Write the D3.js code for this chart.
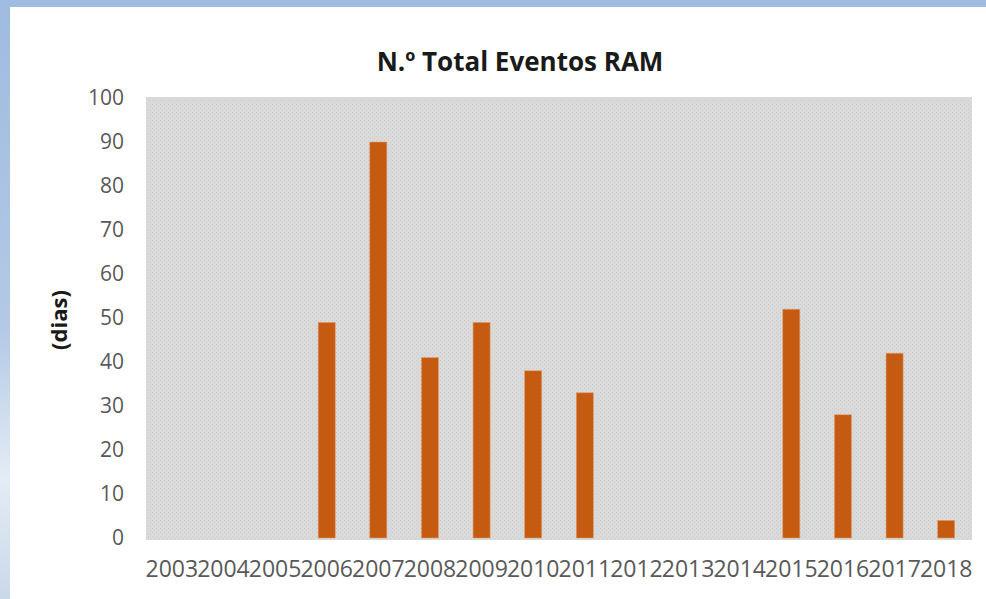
<!DOCTYPE html>
<html>
<head>
<meta charset="utf-8">
<script src="https://cdn.jsdelivr.net/npm/d3@7"></script>
<style>
  html, body { margin: 0; padding: 0; background: #fff; }
  svg { display: block; }
</style>
</head>
<body>
<script>
// data
var years = ["2003", "2004", "2005", "2006", "2007", "2008", "2009", "2010",
             "2011", "2012", "2013", "2014", "2015", "2016", "2017", "2018"];
var eventos = [0, 0, 0, 49, 90, 41, 49, 38, 33, 0, 0, 0, 52, 28, 42, 4];
var yTicks = [0, 10, 20, 30, 40, 50, 60, 70, 80, 90, 100];

var width = 986, height = 599;
var plot = {left: 146, right: 972, top: 97, bottom: 540};

var svg = d3.select("body").append("svg")
    .attr("width", width)
    .attr("height", height);

var defs = svg.append("defs");

// slide background (blue sky strip on left / top)
var grad = defs.append("linearGradient")
    .attr("id", "sky")
    .attr("x1", 0).attr("y1", 0).attr("x2", 0).attr("y2", 1);
grad.append("stop").attr("offset", "0").attr("stop-color", "#9fbbe0");
grad.append("stop").attr("offset", "0.55").attr("stop-color", "#b3c9e6");
grad.append("stop").attr("offset", "0.8").attr("stop-color", "#e4ecf5");
grad.append("stop").attr("offset", "1").attr("stop-color", "#c9d8ea");

// dotted texture of the plot area
var pat = defs.append("pattern")
    .attr("id", "dots")
    .attr("width", 4).attr("height", 4)
    .attr("patternUnits", "userSpaceOnUse");
pat.append("rect").attr("width", 4).attr("height", 4).attr("fill", "#dadada");
pat.append("rect").attr("x", 0).attr("y", 0).attr("width", 1).attr("height", 1).attr("fill", "#cbcbcb");
pat.append("rect").attr("x", 2).attr("y", 2).attr("width", 1).attr("height", 1).attr("fill", "#cbcbcb");

svg.append("rect")
    .attr("width", width).attr("height", height)
    .attr("fill", "url(#sky)");
svg.append("rect")
    .attr("x", 10).attr("y", 7)
    .attr("width", width - 10).attr("height", height - 7)
    .attr("fill", "#fff");

var x = d3.scaleBand()
    .domain(years)
    .range([plot.left, plot.right])
    .paddingInner(0.67)
    .paddingOuter(0.335);

var y = d3.scaleLinear()
    .domain([0, 100])
    .range([538, 98]);

svg.append("rect")
    .attr("x", plot.left).attr("y", plot.top)
    .attr("width", plot.right - plot.left)
    .attr("height", plot.bottom - plot.top)
    .attr("fill", "url(#dots)");

svg.append("g")
    .selectAll("rect")
    .data(eventos)
    .join("rect")
    .attr("x", function (d, i) { return x(years[i]); })
    .attr("y", function (d) { return y(d); })
    .attr("width", x.bandwidth())
    .attr("height", function (d) { return y(0) - y(d); })
    .attr("fill", "#c55a11")
    .attr("stroke", function (d) { return d > 0 ? "#e39a6a" : "none"; })
    .attr("stroke-width", 0.6);

// y axis (labels only)
var yAxis = svg.append("g")
    .attr("transform", "translate(" + (plot.left - 22) + ",0)")
    .call(d3.axisLeft(y).tickValues(yTicks).tickSize(0).tickPadding(0));
yAxis.select(".domain").remove();
yAxis.selectAll("text")
    .attr("fill", "#595959")
    .style("font", "21px 'Open Sans', sans-serif");

// x axis (labels only)
var xAxis = svg.append("g")
    .attr("transform", "translate(0," + plot.bottom + ")")
    .call(d3.axisBottom(x).tickSize(0).tickPadding(21));
xAxis.select(".domain").remove();
xAxis.selectAll("text")
    .attr("fill", "#595959")
    .style("font", "23px 'Open Sans', sans-serif");

svg.append("text")
    .attr("x", 520).attr("y", 71)
    .attr("text-anchor", "middle")
    .attr("fill", "#1a1a1a")
    .style("font", "bold 26px 'Open Sans', sans-serif")
    .text("N.º Total Eventos RAM");

svg.append("text")
    .attr("transform", "translate(67,320) rotate(-90)")
    .attr("text-anchor", "middle")
    .attr("fill", "#1a1a1a")
    .style("font", "bold 22px 'Open Sans', sans-serif")
    .text("(dias)");
</script>
</body>
</html>
